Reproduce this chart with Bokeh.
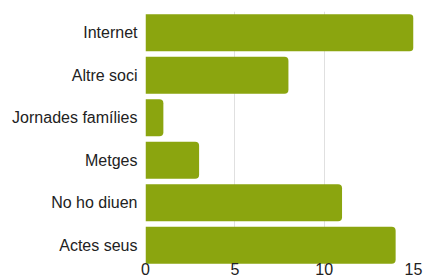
from bokeh.plotting import figure
from bokeh.models import ColumnDataSource, FixedTicker
from bokeh.embed import file_html
from bokeh.resources import INLINE

categories = ["Internet", "Altre soci", "Jornades famílies", "Metges", "No ho diuen", "Actes seus"]
values = [15, 8, 1, 3, 11, 14]
x_ticks = [0, 5, 10, 15]

src = ColumnDataSource(data=dict(cat=categories, val=values))

p = figure(y_range=list(reversed(categories)), x_range=(0, 15),
           width=424, height=280, frame_width=268, frame_height=255,
           min_border_left=145, min_border_right=11, min_border_top=11, min_border_bottom=14,
           output_backend="svg", toolbar_location=None)

p.hbar(y="cat", right="val", left=0, height=0.87, source=src,
       fill_color="#8ba50f", line_color=None, border_radius=(0, 4, 4, 0))

p.outline_line_color = None
p.ygrid.grid_line_color = None
p.xgrid.grid_line_color = "#e0e0e0"
p.xgrid.ticker = FixedTicker(ticks=x_ticks)
p.xaxis.ticker = FixedTicker(ticks=x_ticks)

for ax in (p.xaxis, p.yaxis):
    ax.axis_line_color = None
    ax.major_tick_line_color = None
    ax.minor_tick_line_color = None
    ax.major_label_text_font = "Liberation Sans"
    ax.major_label_text_font_size = "16px"
    ax.major_label_text_color = "#222222"

p.yaxis.major_label_standoff = 8
p.xaxis.major_label_standoff = -4
p.xaxis.major_tick_out = 0
p.yaxis.major_tick_out = 0
p.xaxis.major_tick_in = 0
p.yaxis.major_tick_in = 0

open("out.html", "w").write(file_html(p, INLINE))
